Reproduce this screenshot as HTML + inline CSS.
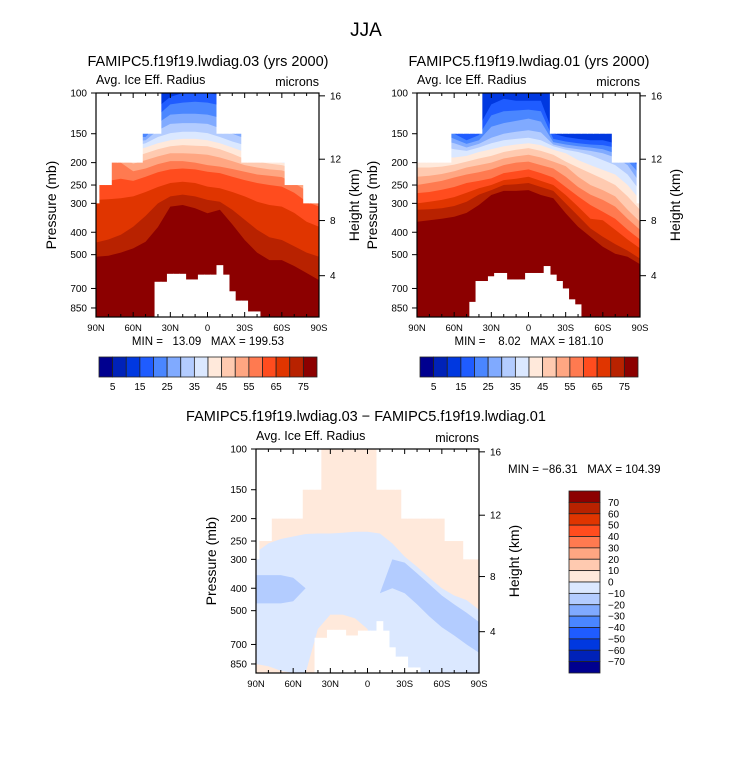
<!DOCTYPE html>
<html><head><meta charset="utf-8"><style>
html,body{margin:0;padding:0;background:#fff;}
svg{display:block;font-family:"Liberation Sans",sans-serif;}
text{white-space:pre;}
</style></head><body>
<svg id="chart" width="733" height="768" viewBox="0 0 733 768" xmlns="http://www.w3.org/2000/svg">
<rect x="0" y="0" width="733" height="768" fill="#fff"/>
<text x="366" y="36" font-size="19" text-anchor="middle">JJA</text>
</svg>
<script>
// ---------- data ----------
const lats = [90,80,70,60,50,40,30,20,10,0,-10,-20,-30,-40,-50,-60,-70,-80,-90];
const levelValues = [15,20,25,30,35,40,45,50,55,60,65,70,75];
// panel 1 (lwdiag.03): pressure (mb) where field crosses each level
const p1L15 = [100,100,120,140,135,115,104,100,100,100,102,110,125,140,150,160,170,180,200];
const p1L20 = [105,105,130,148,148,125,112,110,109,110,113,125,140,150,158,168,178,190,210];
const p1L25 = [110,110,140,155,155,135,124,123,123,124,128,140,149,155,165,175,185,198,220];
const p1L30 = [115,115,150,162,160,145,136,135,135,136,142,150,157,165,175,185,192,205,230];
const p1L35 = [120,120,160,170,165,155,149,147,147,149,155,162,168,175,185,192,198,212,240];
const p1L40 = [125,125,170,178,172,165,160,158,158,160,165,172,180,187,195,200,205,220,250];
const p1L45 = [130,130,180,190,182,175,170,168,169,170,175,183,193,198,202,205,212,230,260];
const p1L50 = [135,140,190,202,195,188,182,182,183,185,190,197,205,210,214,216,225,245,275];
const p1L55 = [140,150,200,218,212,203,197,197,200,205,208,213,219,225,228,231,245,265,290];
const p1L60 = [150,240,235,240,230,220,214,212,214,219,222,230,238,245,250,254,270,295,310];
const p1L65 = [290,288,285,280,268,255,245,242,245,254,258,268,280,295,305,310,330,360,379];
const p1L70 = [443,430,410,379,340,300,280,275,280,290,295,320,353,390,420,432,460,490,510];
const p1L75 = [510,505,490,470,440,380,310,305,315,331,320,370,432,490,528,528,560,600,644];
// panel 2 (lwdiag.01)
const p2L15 = [140,140,140,140,150,140,112,106,108,108,108,150,155,158,160,160,165,180,200];
const p2L20 = [145,145,145,150,160,152,125,120,119,118,120,158,162,165,167,168,172,188,210];
const p2L25 = [150,150,150,158,166,160,140,135,132,129,133,163,167,170,172,175,182,196,225];
const p2L30 = [160,160,160,165,172,166,156,150,147,145,148,167,172,175,178,182,190,205,245];
const p2L35 = [170,170,170,175,178,172,165,160,158,156,160,170,176,180,186,195,205,225,265];
const p2L40 = [190,190,190,190,187,180,175,170,167,165,168,176,182,195,205,215,225,250,290];
const p2L45 = [210,210,208,204,198,192,187,180,176,173,178,185,198,210,222,235,250,280,320];
const p2L50 = [230,228,224,218,210,205,200,192,188,185,190,198,207,230,250,263,280,320,360];
const p2L55 = [250,245,240,232,225,220,214,205,200,198,205,212,230,255,275,290,310,350,390];
const p2L60 = [271,268,262,255,245,240,234,222,218,214,222,232,255,280,305,326,350,390,430];
const p2L65 = [300,295,290,282,270,258,250,238,235,230,240,250,276,310,350,355,390,430,470];
const p2L70 = [320,318,315,308,295,275,263,250,248,245,255,265,300,340,385,418,450,480,520];
const p2L75 = [360,355,350,343,330,305,276,265,265,263,276,285,331,379,418,462,495,510,550];
// difference panel
const diffZero = [280,256,245,239,233,232,232,230,228,228,232,256,292,323,360,400,430,450,495];
const diffNegTop = [351,351,351,360,400,420,420,420,420,420,420,300,310,345,385,430,470,510,560];
const diffNegBot = [465,465,465,455,400,420,420,420,420,420,420,400,420,470,530,590,640,700,760];
const diffZeroLow = [850,870,910,930,930,600,520,520,540,600,930,930,930,930,930,930,930,930,930];
// masks on 5-degree cells
const maskLats = [90,85,80,75,70,65,60,55,50,45,40,35,30,25,20,15,10,5,0,-5,-10,-15,-20,-25,-30,-35,-40,-45,-50,-55,-60,-65,-70,-75,-80,-85,-90];
const top1 = [300,250,250,200,200,200,200,200,150,150,150,100,100,100,100,100,100,100,100,100,150,150,150,150,200,200,200,200,200,200,200,250,250,250,300,300,300];
const ground1 = [930,930,930,930,930,930,930,930,930,930,655,655,605,605,605,640,640,610,610,610,555,610,720,790,790,880,880,930,930,930,930,930,930,930,930,930,930];
const top2 = [200,200,200,200,200,200,150,150,150,150,150,100,100,100,100,100,100,100,100,100,100,100,150,150,150,150,150,150,150,150,150,150,200,200,200,200,300];
const ground2 = [930,930,930,930,930,930,930,930,930,800,650,650,620,600,600,640,640,640,600,600,600,560,610,650,700,780,820,930,930,930,930,930,930,930,930,930,930];
// axes
const pressureTicks = [100,150,200,250,300,400,500,700,850];
const heightTicksKm = [4,8,12,16];
const latTicks = [90,60,30,0,-30,-60,-90];
const latTickLabels = ['90N','60N','30N','0','30S','60S','90S'];
const cbLabels1 = [5,15,25,35,45,55,65,75];
const cbLabels3 = [70,60,50,40,30,20,10,0,-10,-20,-30,-40,-50,-60,-70];
const colors = ['#00008f','#0022b8','#0038e0','#1f5cff','#4a86ff','#80aaff','#b3ccff','#dbe8ff','#ffe9db','#ffcab0','#ffa682','#ff7a50','#ff4c1e','#e03500','#b82200','#8c0000'];

// ---------- drawing ----------
const svg = document.getElementById('chart');
const NS = 'http://www.w3.org/2000/svg';
const PW = 223, PH = 224, PBOT = 930;
function mk(tag, attrs, parent){const e=document.createElementNS(NS,tag);for(const k in attrs)e.setAttribute(k,attrs[k]);(parent||svg).appendChild(e);return e;}
function hToP(km){const z=km*1000;if(z<=11000)return 1013.25*Math.pow(1-2.25577e-5*z,5.25588);return 226.32*Math.exp(-(z-11000)/6341.6);}

function panel(ox, oy, name){
  const g = mk('g',{});
  
  
  const xL = lat => ox + (90-lat)/180*PW;
  const yP = p => Math.min(oy+PH, oy + PH*Math.log(p/100)/Math.log(PBOT/100));
  const clipId = name+'-clip';
  const cp = mk('clipPath',{id:clipId},g);
  mk('rect',{x:ox,y:oy,width:PW,height:PH},cp);
  const plot = mk('g',{'clip-path':'url(#'+clipId+')'},g);
  
  
  return {g, plot, xL, yP, ox, oy};
}
function bandPoly(P, arr, color, name){
  let pts = lats.map((la,i)=>P.xL(la).toFixed(1)+','+P.yP(arr[i]).toFixed(1));
  pts.push(P.xL(-90)+','+(P.oy+PH+2)); pts.push(P.xL(90)+','+(P.oy+PH+2));
  const e = mk('polygon',{points:pts.join(' '),fill:color},P.plot);
  
  
}
function masks(P, topArr, groundArr){
  maskLats.forEach((la,i)=>{
    const x0 = P.xL(Math.min(90,la+2.5)), x1 = P.xL(Math.max(-90,la-2.5));
    if(topArr[i]>100){
      const r = mk('rect',{x:x0-0.3,y:P.oy,width:x1-x0+0.6,height:P.yP(topArr[i])-P.oy,fill:'#fff'},P.plot);
      
      
    }
    if(groundArr[i]<PBOT){
      const yg = P.yP(groundArr[i]);
      const r = mk('rect',{x:x0-0.3,y:yg,width:x1-x0+0.6,height:P.oy+PH-yg+1,fill:'#fff'},P.plot);
      
      
    }
  });
}
function axes(P, name){
  const g=P.g, ox=P.ox, oy=P.oy;
  const fr = mk('rect',{x:ox,y:oy,width:PW,height:PH,fill:'none',stroke:'#000','stroke-width':1.2},g);
  
  
  for(let la=90; la>=-90; la-=10){
    const major = la%30===0; const len = major?5:3;
    const x=P.xL(la);
    mk('line',{x1:x,y1:oy,x2:x,y2:oy+len,stroke:'#000','stroke-width':1},g);
    mk('line',{x1:x,y1:oy+PH,x2:x,y2:oy+PH-len,stroke:'#000','stroke-width':1},g);
  }
  latTicks.forEach((la,i)=>{
    const t = mk('text',{x:P.xL(la),y:oy+PH+14,'font-size':9.5,'text-anchor':'middle'},g);
    t.textContent = latTickLabels[i];
    
    
  });
  pressureTicks.forEach(p=>{
    const y=P.yP(p);
    mk('line',{x1:ox-5,y1:y,x2:ox,y2:y,stroke:'#000','stroke-width':1},g);
    const t = mk('text',{x:ox-9,y:y+3.5,'font-size':10,'text-anchor':'end'},g);
    t.textContent = p;
    
    
  });
  heightTicksKm.forEach(h=>{
    const y=P.yP(hToP(h));
    mk('line',{x1:ox+PW,y1:y,x2:ox+PW+6,y2:y,stroke:'#000','stroke-width':1},g);
    const t = mk('text',{x:ox+PW+11,y:y+3.5,'font-size':10},g);
    t.textContent = h;
    
    
  });
  const a = mk('text',{x:ox,y:oy-9,'font-size':12.5},g);
  a.textContent='Avg. Ice Eff. Radius';
  
  
  const u = mk('text',{x:ox+PW,y:oy-7,'font-size':12.5,'text-anchor':'end'},g);
  u.textContent='microns';
  
  
  const py = oy+PH/2;
  const yl = mk('text',{x:ox-40,y:py,'font-size':14,'text-anchor':'middle',transform:'rotate(-90 '+(ox-40)+' '+py+')'},g);
  yl.textContent='Pressure (mb)';
  
  
  const hx = ox+PW+40;
  const hl = mk('text',{x:hx,y:py,'font-size':14,'text-anchor':'middle',transform:'rotate(-90 '+hx+' '+py+')'},g);
  hl.textContent='Height (km)';
  
  
}
function hColorbar(x0, y0, name){
  const w=218/16;
  const g = mk('g',{});
  
  
  colors.forEach((c,i)=>{
    const r = mk('rect',{x:x0+i*w,y:y0,width:w,height:20,fill:c,stroke:'#222','stroke-width':0.8},g);
    
    
  });
  cbLabels1.forEach(v=>{
    const t = mk('text',{x:x0+(v/5)*w,y:y0+33,'font-size':10,'text-anchor':'middle'},g);
    t.textContent=v;
    
    
  });
}
function title(x,y,s,size,name){
  const t = mk('text',{x:x,y:y,'font-size':size,'text-anchor':'middle'});
  t.textContent=s;
  
  
}

// Panel 1
const P1 = panel(96, 93, 'panel-lwdiag-03');
bandPoly(P1, p1L15.map(()=>90), colors[2], 'band-base');
[p1L15,p1L20,p1L25,p1L30,p1L35,p1L40,p1L45,p1L50,p1L55,p1L60,p1L65,p1L70,p1L75].forEach((arr,k)=>bandPoly(P1, arr, colors[levelValues[k]/5], 'contour-band-'+levelValues[k]));
masks(P1, top1, ground1);
axes(P1, 'panel-1');
title(208, 66, 'FAMIPC5.f19f19.lwdiag.03 (yrs 2000)', 14.5, 'panel-1-title');
title(208, 345, 'MIN =   13.09   MAX = 199.53', 11.5, 'panel-1-min-max');
hColorbar(99, 357, 'colorbar-panel-1');

// Panel 2
const P2 = panel(417, 93, 'panel-lwdiag-01');
bandPoly(P2, p2L15.map(()=>90), colors[2], 'band-base');
[p2L15,p2L20,p2L25,p2L30,p2L35,p2L40,p2L45,p2L50,p2L55,p2L60,p2L65,p2L70,p2L75].forEach((arr,k)=>bandPoly(P2, arr, colors[levelValues[k]/5], 'contour-band-'+levelValues[k]));
masks(P2, top2, ground2);
axes(P2, 'panel-2');
title(529, 66, 'FAMIPC5.f19f19.lwdiag.01 (yrs 2000)', 14.5, 'panel-2-title');
title(529, 345, 'MIN =    8.02   MAX = 181.10', 11.5, 'panel-2-min-max');
hColorbar(420, 357, 'colorbar-panel-2');

// Panel 3 (difference)
const P3 = panel(256, 449, 'panel-difference');
bandPoly(P3, diffZero.map(()=>90), colors[8], 'diff-positive-base');
bandPoly(P3, diffZero, colors[7], 'diff-band-0-to-minus-10');
(function(){
  let pts = lats.map((la,i)=>P3.xL(la).toFixed(1)+','+P3.yP(diffNegTop[i]).toFixed(1));
  for(let i=lats.length-1;i>=0;i--) pts.push(P3.xL(lats[i]).toFixed(1)+','+P3.yP(diffNegBot[i]).toFixed(1));
  const e = mk('polygon',{points:pts.join(' '),fill:colors[6]},P3.plot);
  
  
})();
bandPoly(P3, diffZeroLow, colors[8], 'diff-lower-positive');
masks(P3, top1, ground1);
axes(P3, 'panel-3');
title(366, 421, 'FAMIPC5.f19f19.lwdiag.03 \u2212 FAMIPC5.f19f19.lwdiag.01', 14.5, 'panel-3-title');
(function(){
  const t = mk('text',{x:508,y:473,'font-size':11.5});
  t.textContent='MIN = \u221286.31   MAX = 104.39';
  
  
  const g = mk('g',{});
  
  
  const bh = 182/16;
  colors.slice().reverse().forEach((c,i)=>{
    const r = mk('rect',{x:569,y:491+i*bh,width:31,height:bh,fill:c,stroke:'#222','stroke-width':0.8},g);
    
    
  });
  cbLabels3.forEach((v,i)=>{
    const l = mk('text',{x:608,y:491+(i+1)*bh+3.5,'font-size':10},g);
    l.textContent = v<0 ? '\u2212'+Math.abs(v) : String(v);
    
    
  });
})();
</script>
</body></html>
